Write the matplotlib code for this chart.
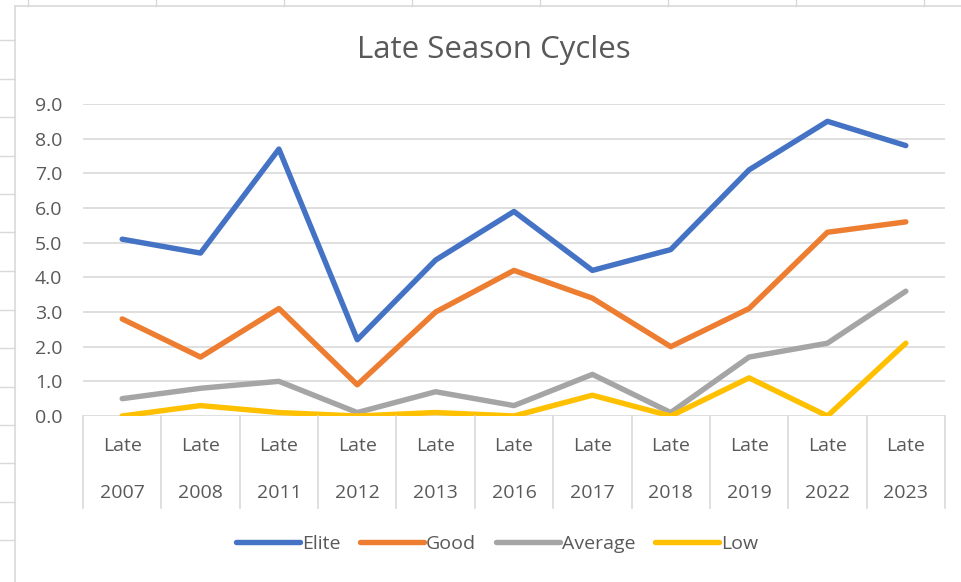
import matplotlib
matplotlib.use("Agg")
import matplotlib.pyplot as plt
from matplotlib.lines import Line2D
import matplotlib.transforms as mtransforms

# ---------------- Data ----------------
seasons = ["2007", "2008", "2011", "2012", "2013", "2016", "2017", "2018", "2019", "2022", "2023"]
elite = [5.1, 4.7, 7.7, 2.2, 4.5, 5.9, 4.2, 4.8, 7.1, 8.5, 7.8]
good = [2.8, 1.7, 3.1, 0.9, 3.0, 4.2, 3.4, 2.0, 3.1, 5.3, 5.6]
average = [0.5, 0.8, 1.0, 0.1, 0.7, 0.3, 1.2, 0.1, 1.7, 2.1, 3.6]
low = [0.0, 0.3, 0.1, 0.0, 0.1, 0.0, 0.6, 0.0, 1.1, 0.0, 2.1]
yticks = [0, 1, 2, 3, 4, 5, 6, 7, 8, 9]

# ---------------- Style ----------------
plt.rcParams['font.family'] = ['Open Sans', 'DejaVu Sans']
txt = '#595959'
grid = '#D9D9D9'
lw = 3.9

fig = plt.figure(figsize=(9.62, 5.82), dpi=100)
ax = fig.add_axes([83/962, 1-416/582, 862/962, 312/582])

x = list(range(len(seasons)))
ax.plot(x, elite, color='#4472C4', lw=lw, label='Elite', solid_joinstyle='round', solid_capstyle='round')
ax.plot(x, good, color='#ED7D31', lw=lw, label='Good', solid_joinstyle='round', solid_capstyle='round')
ax.plot(x, average, color='#A5A5A5', lw=lw, label='Average', solid_joinstyle='round', solid_capstyle='round')
ax.plot(x, low, color='#FFC000', lw=lw, label='Low', solid_joinstyle='round', solid_capstyle='round')

ax.set_xlim(-0.5, len(seasons) - 0.5)
ax.set_ylim(0, 9)
ax.set_yticks(yticks)
ax.set_yticklabels([f"{v:.1f}" for v in yticks])
ax.tick_params(axis='y', length=0, pad=15, labelsize=14, labelcolor=txt)
ax.set_xticks([])
for s in ax.spines.values():
    s.set_visible(False)
ax.grid(axis='y', color=grid, lw=1.2)
ax.set_axisbelow(True)

# category separators and two-line labels
trans = mtransforms.blended_transform_factory(ax.transData, ax.transAxes)
for b in range(len(seasons) + 1):
    ax.add_line(Line2D([b - 0.5, b - 0.5], [0, -92/312], transform=trans, color=grid, lw=1.2, clip_on=False))
for i, s in enumerate(seasons):
    ax.text(i, -30/312, "Late", transform=trans, ha='center', va='center', fontsize=14, color=txt)
    ax.text(i, -77/312, s, transform=trans, ha='center', va='center', fontsize=14, color=txt)

fig.text(494/962, 1-50/582, "Late Season Cycles", ha='center', va='center', fontsize=22.5, color=txt)

fig.legend(loc='center', bbox_to_anchor=(497/962, 1-544/582), ncol=4, frameon=False,
           fontsize=14, labelcolor=txt, handlelength=3.3, handletextpad=0.1, columnspacing=1.0)

# spreadsheet background around the chart
fig.add_artist(Line2D([15/962, 15/962], [0, 1-6/582], transform=fig.transFigure, color=grid, lw=1.2))
fig.add_artist(Line2D([15/962, 1], [1-6/582, 1-6/582], transform=fig.transFigure, color=grid, lw=1.2))
for yy in [40, 79, 117, 156, 194, 232, 271, 310, 348, 387, 425, 463, 502, 540]:
    fig.add_artist(Line2D([0, 15/962], [1-yy/582]*2, transform=fig.transFigure, color=grid, lw=1))
for xx in [28, 156, 284, 412, 540, 668, 796, 924]:
    fig.add_artist(Line2D([xx/962]*2, [1-6/582, 1], transform=fig.transFigure, color=grid, lw=1))

fig.savefig("out.png", dpi=100)
